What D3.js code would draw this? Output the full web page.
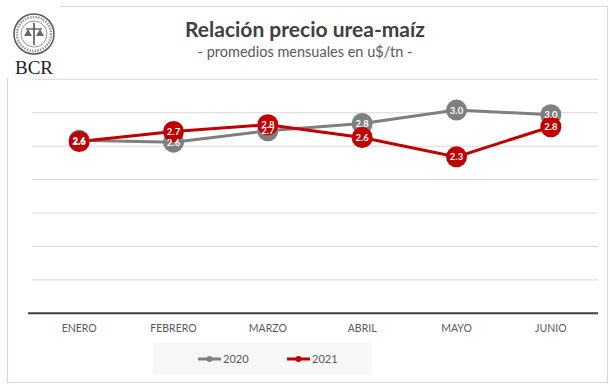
<!DOCTYPE html>
<html><head><meta charset="utf-8">
<script src="https://cdn.jsdelivr.net/npm/d3@7"></script>
<style>body{margin:0;background:#fff}svg{display:block}</style>
</head><body>
<script>
const months = ["ENERO","FEBRERO","MARZO","ABRIL","MAYO","JUNIO"];
const values2020 = [2.59, 2.56, 2.73, 2.84, 3.04, 2.97];
const values2021 = [2.57, 2.72, 2.82, 2.63, 2.34, 2.79];
const labels2020 = ["2.6","2.6","2.7","2.8","3.0","3.0"];
const labels2021 = ["2.6","2.7","2.8","2.6","2.3","2.8"];
const yTicks = [0,0.5,1,1.5,2,2.5,3,3.5];
const seriesNames = ["2020","2021"];
const colors = ["#7f7f7f","#c00000"];

const W=612,H=387;
const svg=d3.select("body").append("svg").attr("width",W).attr("height",H);
const font="Lato, 'Open Sans', sans-serif";

// frame
svg.append("rect").attr("x",7.5).attr("y",6.5).attr("width",600).attr("height",376)
  .attr("fill","#fff").attr("stroke","#d9d9d9").attr("stroke-width",1.2);

// logo
const lg=svg.append("g");
lg.append("rect").attr("x",0).attr("y",0).attr("width",60).attr("height",78).attr("fill","#fff");
lg.append("circle").attr("cx",34).attr("cy",34).attr("r",20).attr("fill","#fff").attr("stroke","#555").attr("stroke-width",1.5);
lg.append("circle").attr("cx",34).attr("cy",34).attr("r",13).attr("fill","none").attr("stroke","#777").attr("stroke-width",0.8);
lg.append("line").attr("x1",34).attr("x2",34).attr("y1",23).attr("y2",45).attr("stroke","#444").attr("stroke-width",1.5);
lg.append("line").attr("x1",26).attr("x2",42).attr("y1",29).attr("y2",29).attr("stroke","#444").attr("stroke-width",1.2);
lg.append("path").attr("d","M24,36 L28,29 L32,36 Z M36,36 L40,29 L44,36 Z").attr("fill","#666");
lg.append("circle").attr("cx",34).attr("cy",34).attr("r",17).attr("fill","none").attr("stroke","#999").attr("stroke-width",2.5).attr("stroke-dasharray","1.5,1.2");
lg.append("text").attr("x",34).attr("y",74).attr("text-anchor","middle")
  .attr("font-family","'Liberation Serif','DejaVu Serif',serif").attr("font-size",19).attr("fill","#222").text("BCR");

// title
svg.append("text").attr("x",305).attr("y",37).attr("text-anchor","middle")
  .attr("font-family",font).attr("font-weight","bold").attr("font-size",21).attr("fill","#404040")
  .text("Relación precio urea-maíz");
svg.append("text").attr("x",305).attr("y",57).attr("text-anchor","middle")
  .attr("font-family",font).attr("font-size",14.5).attr("fill","#595959")
  .text("- promedios mensuales en u$/tn -");

// scales
const x=d3.scaleBand().domain(months).range([32,598]);
const y=d3.scaleLinear().domain([0,3.5]).range([313.3,79.3]);
const cx=d=>x(d)+x.bandwidth()/2;

// grid
svg.append("g").selectAll("line").data(yTicks.filter(t=>t>0)).join("line")
  .attr("x1",32).attr("x2",598).attr("y1",d=>y(d)).attr("y2",d=>y(d))
  .attr("stroke","#d9d9d9").attr("stroke-width",1);

// x axis
const xa=svg.append("g").attr("transform",`translate(0,${y(0)})`)
  .call(d3.axisBottom(x).tickSize(0).tickPadding(11));
xa.select(".domain").attr("stroke","#404040").attr("stroke-width",2).attr("d","M28,0H598");
xa.selectAll("text").attr("font-family",font).attr("font-size",10.5).attr("fill","#595959");

// series
const series=[values2020,values2021];
const labs=[labels2020,labels2021];
const allPts=series.map((vals,i)=>months.map((m,j)=>({m,v:vals[j],l:labs[i][j],i})));
const gLines=svg.append("g"), gMarks=svg.append("g"), gLabs=svg.append("g");
allPts.forEach((pts,i)=>{
  gLines.append("path").datum(pts).attr("fill","none").attr("stroke",colors[i]).attr("stroke-width",3)
    .attr("d",d3.line().x(d=>cx(d.m)).y(d=>y(d.v)));
  gMarks.append("g").selectAll("circle").data(pts).join("circle")
    .attr("cx",d=>cx(d.m)).attr("cy",d=>y(d.v)).attr("r",10.5).attr("fill",colors[i]);
});
allPts.forEach((pts,i)=>{
  gLabs.append("g").selectAll("text").data(pts).join("text")
    .attr("x",d=>cx(d.m)).attr("y",d=>y(d.v)+3.5).attr("text-anchor","middle")
    .attr("font-family",font).attr("font-weight","bold").attr("font-size",9.5).attr("fill","#fff")
    .text(d=>d.l);
});

// legend
svg.append("rect").attr("x",153).attr("y",343).attr("width",219).attr("height",32).attr("fill","#f7f7f7");
seriesNames.forEach((n,i)=>{
  const lx=[198,287][i], ly=359;
  svg.append("line").attr("x1",lx).attr("x2",lx+23).attr("y1",ly).attr("y2",ly).attr("stroke",colors[i]).attr("stroke-width",3);
  svg.append("circle").attr("cx",lx+11.5).attr("cy",ly).attr("r",3).attr("fill",colors[i]);
  svg.append("text").attr("x",lx+25).attr("y",ly+4).attr("font-family",font).attr("font-size",11).attr("fill","#595959").text(n);
});
</script>
</body></html>
